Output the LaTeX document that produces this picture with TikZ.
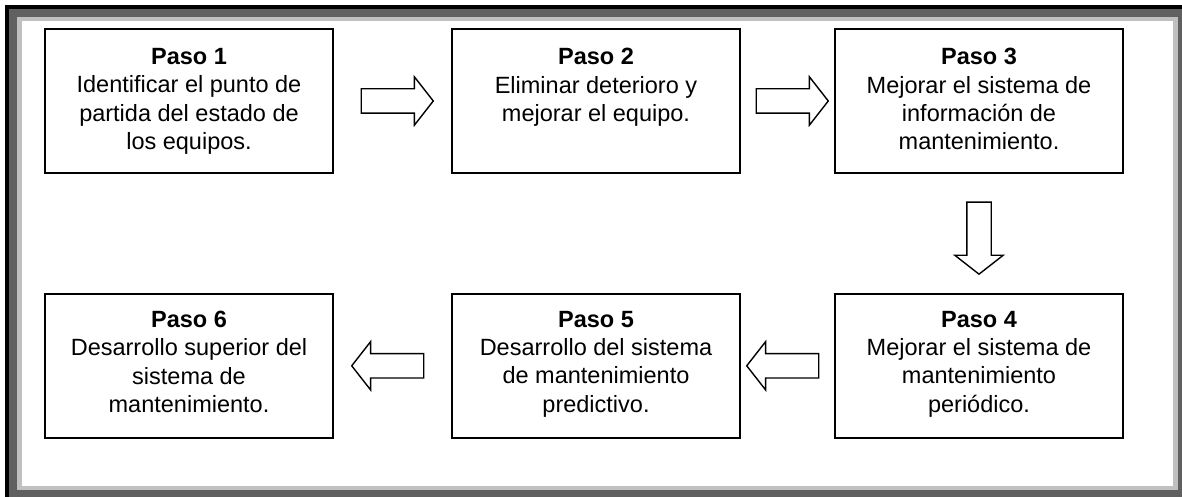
\documentclass[tikz,border=0pt]{standalone}
\usepackage{fontspec}
\setmainfont{Liberation Sans}
\definecolor{framedark}{RGB}{96,96,96}
\definecolor{framelight}{RGB}{192,192,192}
\usetikzlibrary{calc}
\usetikzlibrary{positioning}
\usetikzlibrary{shapes.arrows}

\begin{document}
\begin{tikzpicture}[x=1pt,y=1pt,
  paso/.style={draw, line width=1.8pt, minimum width=288pt, minimum height=144pt, inner sep=0pt},
  pasotxt/.style={anchor=north, align=center, inner sep=0pt, font=\fontsize{23.5}{28.3}\selectfont},
  flecha/.style={draw, line width=1.4pt, single arrow, single arrow head extend=12pt,
    single arrow tip angle=104, inner sep=11.5pt, minimum height=72pt}]
  \useasboundingbox (0,0) rectangle (1182,497);
  \fill[white] (0,0) rectangle (1182,497);

  % marco
  \fill[framedark] (5,0) rectangle (1182,492);
  \fill[black] (5,488) rectangle (1182,492);
  \fill[black] (5,0) rectangle (9,492);
  \fill[framelight] (17,7) rectangle (1178,480);
  \fill[white] (22,11) rectangle (1173,476);

  \node[paso] (paso1) at (189,396) {};
  \node[paso] (paso2) at (596,396) {};
  \node[paso] (paso3) at (979,396) {};
  \node[paso, below=119pt of paso3] (paso4) {};
  \node[paso] (paso5) at (paso2 |- paso4) {};
  \node[paso] (paso6) at (paso1 |- paso4) {};

  \node[pasotxt] (txt1) at ([yshift=-20pt]paso1.north) {\textbf{Paso 1}\\Identificar el punto de\\partida del estado de\\los equipos.};
  \node[pasotxt] (txt2) at ([yshift=-20pt]paso2.north) {\textbf{Paso 2}\\Eliminar deterioro y\\mejorar el equipo.};
  \node[pasotxt] (txt3) at ([yshift=-20pt]paso3.north) {\textbf{Paso 3}\\Mejorar el sistema de\\información de\\mantenimiento.};
  \node[pasotxt] (txt4) at ([yshift=-18pt]paso4.north) {\textbf{Paso 4}\\Mejorar el sistema de\\mantenimiento\\periódico.};
  \node[pasotxt] (txt5) at ([yshift=-18pt]paso5.north) {\textbf{Paso 5}\\Desarrollo del sistema\\de mantenimiento\\predictivo.};
  \node[pasotxt] (txt6) at ([yshift=-18pt]paso6.north) {\textbf{Paso 6}\\Desarrollo superior del\\sistema de\\mantenimiento.};

  \node[flecha] (f12) at ($(paso1.east)!0.5!(paso2.west)$) {};
  \node[flecha] (f23) at ($(paso2.east)!0.5!(paso3.west)$) {};
  \node[flecha, shape border rotate=270] (f34) at ($(paso3.south)!0.5!(paso4.north)$) {};
  \node[flecha, shape border rotate=180] (f45) at ($(paso4.west)!0.5!(paso5.east)$) {};
  \node[flecha, shape border rotate=180] (f56) at ($(paso5.west)!0.5!(paso6.east)$) {};
\end{tikzpicture}
\end{document}
